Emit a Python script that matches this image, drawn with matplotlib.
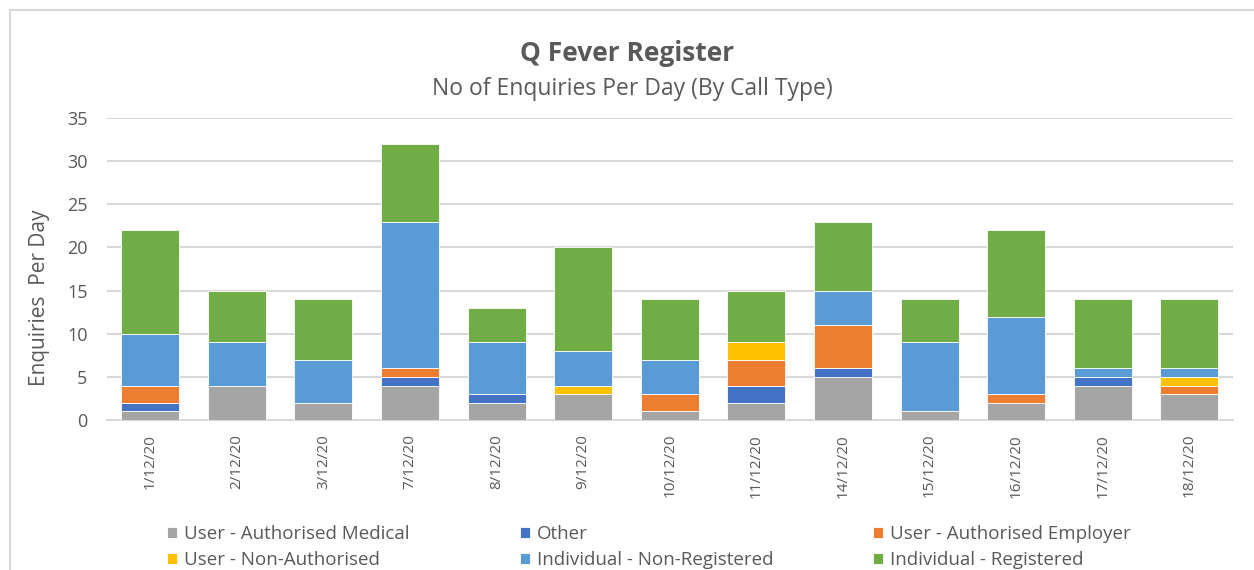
import numpy as np
import matplotlib
matplotlib.use('Agg')
import matplotlib.pyplot as plt
from matplotlib.patches import Rectangle

plt.rcParams['font.family'] = ['Open Sans', 'DejaVu Sans']

# ── Data ─────────────────────────────────────────────
dates = ['1/12/20', '2/12/20', '3/12/20', '7/12/20', '8/12/20', '9/12/20', '10/12/20',
         '11/12/20', '14/12/20', '15/12/20', '16/12/20', '17/12/20', '18/12/20']

auth_medical  = [1, 4, 2, 4, 2, 3, 1, 2, 5, 1, 2, 4, 3]
other         = [1, 0, 0, 1, 1, 0, 0, 2, 1, 0, 0, 1, 0]
auth_employer = [2, 0, 0, 1, 0, 0, 2, 3, 5, 0, 1, 0, 1]
non_auth      = [0, 0, 0, 0, 0, 1, 0, 2, 0, 0, 0, 0, 1]
non_reg       = [6, 5, 5, 17, 6, 4, 4, 0, 4, 8, 9, 1, 1]
registered    = [12, 6, 7, 9, 4, 12, 7, 6, 8, 5, 10, 8, 8]

series = [
    ('User - Authorised Medical', auth_medical,  '#A5A5A5'),
    ('Other',                     other,         '#4472C4'),
    ('User - Authorised Employer', auth_employer, '#ED7D31'),
    ('User - Non-Authorised',     non_auth,      '#FFC000'),
    ('Individual - Non-Registered', non_reg,     '#5B9BD5'),
    ('Individual - Registered',   registered,    '#70AD47'),
]

TXT = '#595959'
GRID = '#D9D9D9'

fig = plt.figure(figsize=(12.54, 5.70), dpi=100)
ax = fig.add_axes([0.0853, 0.263, 0.8977, 0.530])

# outer chart frame (partially visible)
fig.patches.append(Rectangle((0.008, -0.05), 1.2, 1.033, transform=fig.transFigure,
                             fill=False, edgecolor='#D9D9D9', linewidth=1.5))

x = np.arange(len(dates))
bottom = np.zeros(len(dates))
handles = []
for name, vals, col in series:
    vals = np.array(vals, dtype=float)
    h = ax.bar(x, vals, 0.67, bottom=bottom, color=col, edgecolor='white',
               linewidth=0.6, label=name, zorder=3)
    handles.append(h)
    bottom += vals

ax.set_xlim(-0.5, len(dates) - 0.5)
ax.set_ylim(0, 35)
ax.set_yticks(range(0, 36, 5))
ax.yaxis.grid(True, color=GRID, linewidth=1.5, zorder=0)
ax.set_axisbelow(True)
for s in ['top', 'right', 'left']:
    ax.spines[s].set_visible(False)
ax.spines['bottom'].set_color(GRID)
ax.spines['bottom'].set_linewidth(1.5)
ax.tick_params(axis='both', length=0, colors=TXT)
ax.tick_params(axis='y', pad=14, labelsize=13)
ax.set_xticks(x)
ax.set_xticklabels(dates, rotation=90, fontsize=11, color=TXT)
ax.tick_params(axis='x', pad=10)

ax.set_ylabel('Enquiries  Per Day', fontsize=15, color=TXT)
ax.yaxis.set_label_coords(-0.051, 0.406)

fig.text(0.5, 0.906, 'Q Fever Register', ha='center', va='center',
         fontsize=19, fontweight='bold', color=TXT)
fig.text(0.504, 0.843, 'No of Enquiries Per Day (By Call Type)', ha='center', va='center',
         fontsize=16.5, color=TXT)

# legend: three columns, filled row by row
col_x = [167, 520, 873]
for i, cx in enumerate(col_x):
    leg = fig.legend(handles=[handles[i], handles[i + 3]], loc='center left',
                     bbox_to_anchor=(cx / 1254, 1 - 547 / 570), frameon=False,
                     fontsize=13.5, handlelength=0.55, handleheight=0.55,
                     handletextpad=0.35, labelspacing=0.45, borderpad=0, borderaxespad=0)
    for t in leg.get_texts():
        t.set_color(TXT)

plt.savefig('out.png', dpi=100)
